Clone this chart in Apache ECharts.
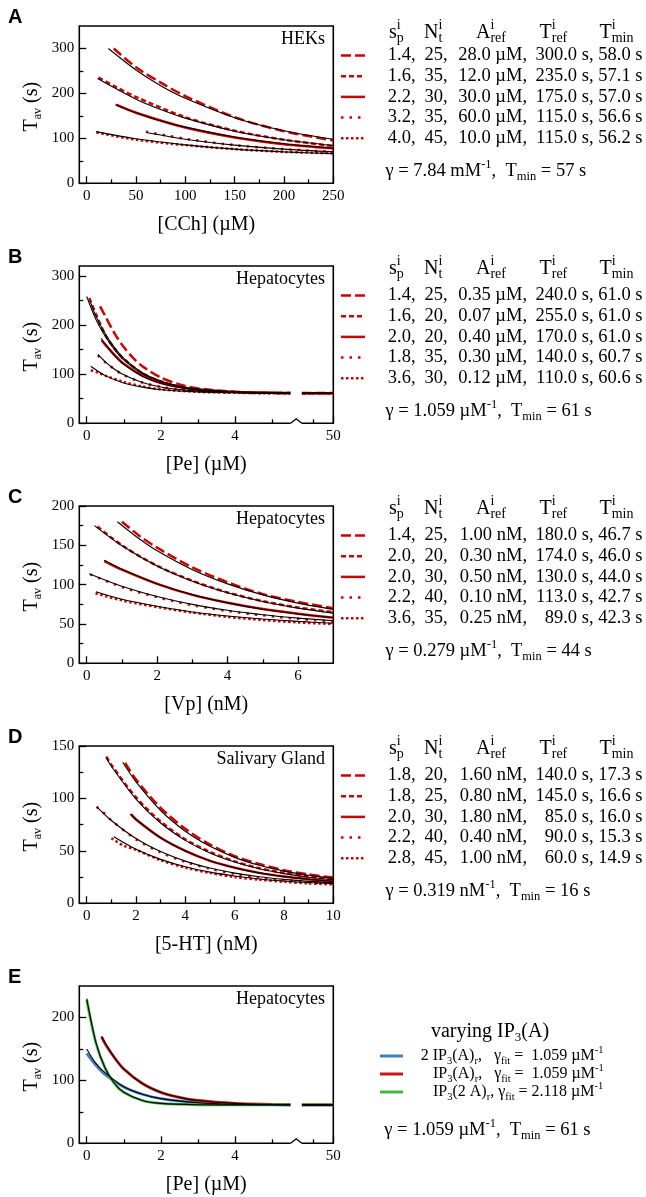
<!DOCTYPE html>
<html><head><meta charset="utf-8">
<script src="https://cdn.jsdelivr.net/npm/echarts@6.0.0/dist/echarts.min.js"></script>
<style>html,body{margin:0;padding:0;background:#fff;}#chart{width:646px;height:1197px;}</style>
</head><body><div id="chart"></div>
<script>
// ===================== DATA =====================
// Panel A : HEKs, [CCh] (uM)
const aXTicks=[0,50,100,150,200,250], aXMinor=[25,75,125,175,225];
const aYTicks=[0,100,200,300], aYMinor=[50,150,250];
const aSim=[
 [[27.5,300],[50,258],[75,224],[100,194],[150,147],[200,116],[250,95]],
 [[12,235],[30,214],[50,192],[100,147],[150,117],[200,97],[250,83]],
 [[30,175],[50,157],[100,124],[150,102],[200,87],[250,78]],
 [[60,115],[100,99],[150,85],[200,76],[250,70]],
 [[10,113],[50,97],[100,85],[150,76],[200,70],[250,67]]
];
const aFit=[
 [[22,300],[50,252],[75,217],[100,189],[150,146],[200,117],[250,98]],
 [[11,233],[50,187],[75,164],[100,145],[150,116],[200,97],[250,84]],
 [[29,175],[50,157],[75,139],[100,125],[150,103],[200,88],[250,78]],
 [[60.6,113],[100,98],[150,85],[200,76],[250,70]],
 [[9.4,115],[50,99],[100,85.5],[150,76],[200,70],[250,66]]
];
const aRows=[
 ['1.4,','25,','28.0 \u00b5M,','300.0 s,','58.0 s'],
 ['1.6,','35,','12.0 \u00b5M,','235.0 s,','57.1 s'],
 ['2.2,','30,','30.0 \u00b5M,','175.0 s,','57.0 s'],
 ['3.2,','35,','60.0 \u00b5M,','115.0 s,','56.6 s'],
 ['4.0,','45,','10.0 \u00b5M,','115.0 s,','56.2 s']
];
const aGamma='\u03b3 = 7.84 mM^{-1},  T_{min} = 57 s';

// Panel B : Hepatocytes, [Pe] (uM), broken x axis
const bXTicks=[0,2,4,50], bXMinor=[1,3,5,49.45];
const bYTicks=[0,100,200,300], bYMinor=[50,150,250];
const bBreak={start:5.5,end:49.15};
const bSim=[
 [[0.36,238],[0.5,218],[0.75,183],[1,155],[1.25,133],[1.5,116],[2,93],[2.5,79],[3,71],[4,64],[5,62],[5.5,61.5],[49.2,61.5],[50,61.5]],
 [[0.07,255],[0.25,222],[0.5,180],[0.75,152],[1,131],[1.5,102],[2,85],[2.5,75],[3,69],[4,64],[5,62],[5.5,61.4],[49.2,61.2],[50,61.2]],
 [[0.4,169],[0.5,160],[0.75,139],[1,121],[1.5,97],[2,82],[2.5,74],[3,68.5],[4,63.5],[5,62],[5.5,61.5],[49.2,61.2],[50,61.2]],
 [[0.3,138],[0.5,124],[0.75,110],[1,98],[1.5,83],[2,74],[2.5,69],[3,65.5],[4,62.5],[5,61.2],[5.5,61],[49.2,60.9],[50,60.9]],
 [[0.11,108],[0.3,103],[0.5,97],[1,84],[1.5,75],[2,69],[3,64],[4,62],[5,61],[5.5,60.8],[49.2,60.6],[50,60.6]]
];
const bFit=[
 [[0.09,249],[0.25,218],[0.5,182],[0.75,154],[1,132],[1.5,103],[2,86],[2.5,75.5],[3,69.5],[4,64],[5,62],[5.5,61.5],[49.2,61],[50,61]],
 [[0,258],[0.25,211],[0.5,177],[0.75,150],[1,129],[1.5,101],[2,85],[2.5,75],[3,69],[4,64],[5,62],[5.5,61.6],[49.2,61],[50,61]],
 [[0.39,173],[0.5,161],[0.75,137.5],[1,120],[1.5,95.6],[2,81.4],[2.5,73],[3,68],[4,63.5],[5,62],[5.5,61.5],[49.2,61],[50,61]],
 [[0.3,140],[0.5,125],[0.75,110],[1,98.6],[1.5,83],[2,74],[2.5,68.7],[3,65.5],[4,62.6],[5,61.5],[5.5,61.3],[49.2,61],[50,61]],
 [[0.11,116],[0.5,97],[1,82],[1.5,73.6],[2,68.4],[3,63.6],[4,62],[5,61.3],[5.5,61.2],[49.2,61],[50,61]]
];
const bRows=[
 ['1.4,','25,','0.35 \u00b5M,','240.0 s,','61.0 s'],
 ['1.6,','20,','0.07 \u00b5M,','255.0 s,','61.0 s'],
 ['2.0,','20,','0.40 \u00b5M,','170.0 s,','61.0 s'],
 ['1.8,','35,','0.30 \u00b5M,','140.0 s,','60.7 s'],
 ['3.6,','30,','0.12 \u00b5M,','110.0 s,','60.6 s']
];
const bGamma='\u03b3 = 1.059 \u00b5M^{-1},  T_{min} = 61 s';

// Panel C : Hepatocytes, [Vp] (nM)
const cXTicks=[0,2,4,6], cXMinor=[1,3,5];
const cYTicks=[0,50,100,150,200], cYMinor=[25,75,125,175];
const cSim=[
 [[1,180],[1.5,162],[2,147],[3,122],[4,103],[5,88],[6,78],[7,70]],
 [[0.3,174],[1,150],[2,124],[3,105],[4,90],[5,79],[6,71],[7,65]],
 [[0.5,130],[1,119],[2,101],[3,87],[4,77],[5,69],[6,63],[7,58]],
 [[0.1,113],[1,97],[2,84],[3,74],[4,66.5],[5,61],[6,56.5],[7,53]],
 [[0.25,89],[1,80],[2,71.5],[3,64.5],[4,59],[5,55],[6,52],[7,50]]
];
const cFit=[
 [[0.87,180],[1.5,158],[2,143],[3,119],[4,101],[5,87],[6,76.5],[7,68.6]],
 [[0.22,175],[1,149.4],[2,123.7],[3,104.3],[4,89.6],[5,78.5],[6,70.1],[7,63.8]],
 [[0.5,131],[1,119.7],[2,101.2],[3,87.3],[4,76.8],[5,68.8],[6,62.7],[7,58.2]],
 [[0.07,114],[1,98],[2,84.9],[3,74.9],[4,67.4],[5,61.7],[6,57.4],[7,54.1]],
 [[0.26,91],[1,81.5],[2,72.6],[3,65.3],[4,60.2],[5,56.3],[6,53.3],[7,51]]
];
const cRows=[
 ['1.4,','25,','1.00 nM,','180.0 s,','46.7 s'],
 ['2.0,','20,','0.30 nM,','174.0 s,','46.0 s'],
 ['2.0,','30,','0.50 nM,','130.0 s,','44.0 s'],
 ['2.2,','40,','0.10 nM,','113.0 s,','42.7 s'],
 ['3.6,','35,','0.25 nM,','89.0 s,','42.3 s']
];
const cGamma='\u03b3 = 0.279 \u00b5M^{-1},  T_{min} = 44 s';

// Panel D : Salivary Gland, [5-HT] (nM)
const dXTicks=[0,2,4,6,8,10], dXMinor=[1,3,5,7,9];
const dYTicks=[0,50,100,150], dYMinor=[25,75,125];
const dSim=[
 [[1.56,134],[2,118],[3,91],[4,71],[5,56],[6,45],[7,37.5],[8,31.5],[9,27.5],[10,24.5]],
 [[0.8,140],[1,132],[2,101],[3,78],[4,61],[5,49],[6,40],[7,33.5],[8,29],[9,25.5],[10,23]],
 [[1.8,85],[2,80],[3,62.5],[4,50],[5,40.5],[6,34],[7,29],[8,25.5],[9,23],[10,21]],
 [[0.4,92],[0.8,84],[1,79],[2,61],[3,48.5],[4,39.5],[5,33],[6,28],[7,24.5],[8,22],[9,20],[10,19]],
 [[1,62],[1.5,55],[2,51],[3,41],[4,34],[5,29],[6,25],[7,22.5],[8,20.5],[9,19],[10,18]]
];
const dFit=[
 [[1.46,134.5],[2,115.8],[3,88.5],[4,68.7],[5,54.3],[6,43.8],[7,36.2],[8,30.7],[9,26.7],[10,23.8]],
 [[0.78,139],[1,130.7],[2,99.4],[3,76.6],[4,60],[5,48],[6,39.3],[7,32.9],[8,28.3],[9,24.9],[10,22.5]],
 [[1.76,85],[2,79.9],[3,62.5],[4,49.8],[5,40.5],[6,33.8],[7,29],[8,25.4],[9,22.9],[10,21]],
 [[0.41,92],[1,79],[2,61.8],[3,49.3],[4,40.2],[5,33.6],[6,28.8],[7,25.3],[8,22.8],[9,20.9],[10,19.6]],
 [[1.1,63.5],[2,51.6],[3,41.9],[4,34.8],[5,29.7],[6,26],[7,23.2],[8,21.3],[9,19.8],[10,18.8]]
];
const dRows=[
 ['1.8,','20,','1.60 nM,','140.0 s,','17.3 s'],
 ['1.8,','25,','0.80 nM,','145.0 s,','16.6 s'],
 ['2.0,','30,','1.80 nM,','85.0 s,','16.0 s'],
 ['2.2,','40,','0.40 nM,','90.0 s,','15.3 s'],
 ['2.8,','45,','1.00 nM,','60.0 s,','14.9 s']
];
const dGamma='\u03b3 = 0.319 nM^{-1},  T_{min} = 16 s';

// Panel E : Hepatocytes, varying IP3(A), broken x axis
const eXTicks=[0,2,4,50], eXMinor=[1,3,5,49.45];
const eYTicks=[0,100,200], eYMinor=[50,150];
const eBreak={start:5.5,end:49.15};
const eNames=['2 IP_{3}(A)_{r},   \u03b3_{fit} =  1.059 \u00b5M^{-1}','IP_{3}(A)_{r},   \u03b3_{fit} =  1.059 \u00b5M^{-1}','IP_{3}(2 A)_{r}, \u03b3_{fit} = 2.118 \u00b5M^{-1}'];
const eSim=[ // blue, red, green
 [[0,143],[0.25,124],[0.5,109],[1,89.5],[1.5,78],[2,71],[3,64.5],[4,62],[5,61.4],[5.5,61.2],[49.2,61],[50,61]],
 [[0.4,169],[0.5,158],[0.75,136],[1,118],[1.5,95],[2,81],[2.5,73],[3,68],[4,63.4],[5,61.8],[5.5,61.3],[49.2,61],[50,61]],
 [[0,228],[0.25,159],[0.5,119],[0.75,95],[1,81],[1.5,68],[2,63.4],[3,61.3],[4,61],[5.5,61],[49.2,61],[50,61]]
];
const eFit=[
 [[0,150],[0.25,127],[0.5,112],[1,90],[1.5,78],[2,71],[3,64.5],[4,62],[5,61.3],[5.5,61.2],[49.2,61],[50,61]],
 [[0.4,170],[0.5,159],[0.75,136],[1,118],[1.5,95],[2,81],[2.5,73],[3,68],[4,63.4],[5,61.8],[5.5,61.3],[49.2,61],[50,61]],
 [[0,230],[0.25,160],[0.5,119],[0.75,95],[1,81],[1.5,68],[2,63.4],[3,61.3],[4,61],[5.5,61],[49.2,61],[50,61]]
];
const eGamma='\u03b3 = 1.059 \u00b5M^{-1},  T_{min} = 61 s';

// ===================== STYLE / LAYOUT =====================
const SERIF='"Liberation Serif","Times New Roman",serif';
const SANS='"Liberation Sans",Arial,sans-serif';
const RED='#d40000';
const E_COLORS=['#3f7fc0','#cc1515','#44b544'];
const DASH=[[10,4],[5,3],'solid',[2.5,6],[2.5,2.5]];
const GL=79.3, GW=254, GH=157.3;
const TOPS=[26,266,506,746,986];

const panels=[
 {letter:'A',cell:'HEKs',xName:'[CCh] (\u00b5M)',xr:[-7.5,250],yr:[0,350],xt:aXTicks,xm:aXMinor,yt:aYTicks,ym:aYMinor,sim:aSim,fit:aFit,rows:aRows,gamma:aGamma,hdr:6.5},
 {letter:'B',cell:'Hepatocytes',xName:'[Pe] (\u00b5M)',xr:[-0.2,50],yr:[0,320],xt:bXTicks,xm:bXMinor,yt:bYTicks,ym:bYMinor,sim:bSim,fit:bFit,rows:bRows,gamma:bGamma,hdr:2.5,brk:bBreak},
 {letter:'C',cell:'Hepatocytes',xName:'[Vp] (nM)',xr:[-0.21,7],yr:[0,200],xt:cXTicks,xm:cXMinor,yt:cYTicks,ym:cYMinor,sim:cSim,fit:cFit,rows:cRows,gamma:cGamma,hdr:2.5},
 {letter:'D',cell:'Salivary Gland',xName:'[5-HT] (nM)',xr:[-0.3,10],yr:[0,150],xt:dXTicks,xm:dXMinor,yt:dYTicks,ym:dYMinor,sim:dSim,fit:dFit,rows:dRows,gamma:dGamma,hdr:2.5},
 {letter:'E',cell:'Hepatocytes',xName:'[Pe] (\u00b5M)',xr:[-0.2,50],yr:[0,250],xt:eXTicks,xm:eXMinor,yt:eYTicks,ym:eYMinor,sim:eSim,fit:eFit,gamma:eGamma,brk:eBreak,colored:true}
];

// ---------- text helpers (sub/superscripts) ----------
const cv=document.createElement('canvas').getContext('2d');
function tw(s,size){cv.font='normal '+size+'px '+SERIF;return cv.measureText(s).width;}
function parse(str){
  const out=[];let i=0,buf='';
  while(i<str.length){
    const c=str[i];
    if((c==='_'||c==='^')&&str[i+1]==='{'){
      if(buf){out.push({t:buf,k:'n'});buf='';}
      const j=str.indexOf('}',i);
      out.push({t:str.slice(i+2,j),k:c==='_'?'sub':'sup'});i=j+1;
    }else{buf+=c;i++;}
  }
  if(buf)out.push({t:buf,k:'n'});
  return out;
}
function T(t,x,y,size,align,z){
  return {type:'text',x:x,y:y,z:z||95,silent:true,style:{text:t,fontSize:size,fontFamily:SERIF,fill:'#000',
    align:align||'left',textAlign:align||'left',verticalAlign:'middle',textVerticalAlign:'middle'}};
}
function mtext(str,x,y,size,align,ssz){
  const ss=ssz||size*0.68;const items=parse(str);const els=[];let cx=0,lastX=0,prev=false;
  for(const it of items){
    if(it.k==='n'){els.push({t:it.t,x:cx,dy:0,s:size});cx+=tw(it.t,size);prev=false;}
    else{
      const w=tw(it.t,ss);const sx=prev?lastX:cx;
      els.push({t:it.t,x:sx,dy:it.k==='sub'?size*0.3:-size*0.36,s:ss});
      if(prev){cx=Math.max(cx,sx+w);}else{lastX=cx;cx+=w;}
      prev=true;
    }
  }
  const off=align==='right'?-cx:(align==='center'?-cx/2:0);
  return els.map(e=>T(e.t,x+off+e.x,y+e.dy,e.s));
}

// ---------- build option ----------
const grids=[],xAxes=[],yAxes=[],series=[],graphics=[];
const tickStyle={color:'#000',width:1.3};
const labelStyle={fontFamily:SERIF,fontSize:15,color:'#000'};
panels.forEach((p,i)=>{
  const top=TOPS[i];
  grids.push({left:GL,top:top,width:GW,height:GH,show:true,borderColor:'#000',borderWidth:1.6,backgroundColor:'transparent'});
  const brk=p.brk?{breaks:[{start:p.brk.start,end:p.brk.end,gap:0.3}],breakArea:{show:false}}:{};
  const noLine={show:false,onZero:false};
  xAxes[i]=Object.assign({gridIndex:i,type:'value',min:p.xr[0],max:p.xr[1],position:'bottom',
    axisLine:noLine,splitLine:{show:false},
    axisTick:{show:true,inside:true,length:7,lineStyle:tickStyle,customValues:p.xt},
    axisLabel:{show:true,margin:5,customValues:p.xt,...labelStyle},
    name:p.xName,nameLocation:'middle',nameGap:31,nameTextStyle:{fontFamily:SERIF,fontSize:20,color:'#000'}},brk);
  xAxes[5+i]=Object.assign({gridIndex:i,type:'value',min:p.xr[0],max:p.xr[1],position:'bottom',
    axisLine:noLine,splitLine:{show:false},axisLabel:{show:false},
    axisTick:{show:true,inside:true,length:4,lineStyle:tickStyle,customValues:p.xm}},brk);
  yAxes[i]={gridIndex:i,type:'value',min:p.yr[0],max:p.yr[1],position:'left',
    axisLine:noLine,splitLine:{show:false},
    axisTick:{show:true,inside:true,length:7,lineStyle:tickStyle,customValues:p.yt},
    axisLabel:{show:true,margin:5,customValues:p.yt,...labelStyle}};
  yAxes[5+i]={gridIndex:i,type:'value',min:p.yr[0],max:p.yr[1],position:'left',
    axisLine:noLine,splitLine:{show:false},axisLabel:{show:false},
    axisTick:{show:true,inside:true,length:4,lineStyle:tickStyle,customValues:p.ym}};
  // simulated (coloured) curves
  p.sim.forEach((d,k)=>{
    series.push({type:'line',xAxisIndex:i,yAxisIndex:i,data:d,showSymbol:false,symbol:'none',smooth:0.3,
      lineStyle:p.colored?{color:E_COLORS[k],width:2.8}:{color:RED,width:2.5,type:DASH[k],cap:'butt'},z:2});
  });
  // fits (black)
  p.fit.forEach(d=>{
    series.push({type:'line',xAxisIndex:i,yAxisIndex:i,data:d,showSymbol:false,symbol:'none',smooth:0.3,
      lineStyle:{color:'#000',width:1.1},z:3});
  });
  // panel letter + cell label
  graphics.push({type:'text',x:8,y:top-9,z:95,silent:true,style:{text:p.letter,fontSize:20,fontWeight:'bold',fontFamily:SANS,fill:'#000',align:'left',textAlign:'left',verticalAlign:'middle',textVerticalAlign:'middle'}});
  graphics.push(T(p.cell,325,top+13,18,'right'));
  // y axis name (rotated)
  graphics.push({type:'group',x:31.7,y:top+GH/2+2,rotation:Math.PI/2,children:mtext('T_{av} (s)',0,0,20,'center',12)});
  // right side text
  if(p.rows){
    const hdrX=[389,424,476,539.5,599.5];
    const hdrS=['s_{p}^{i}','N_{t}^{i}','A_{ref}^{i}','T_{ref}^{i}','T_{min}^{i}'];
    hdrS.forEach((h,k)=>graphics.push(...mtext(h,hdrX[k],top+p.hdr,20,'left',14)));
    const colR=[415.5,447.5,527,593.5,642.5];
    p.rows.forEach((r,k)=>{
      const y=top+29.5+20.7*k;
      r.forEach((c,j)=>graphics.push(T(c,colR[j],y,18.5,'right')));
      const ds=DASH[k];
      graphics.push({type:'line',z:95,silent:true,shape:{x1:341,y1:y,x2:365,y2:y},style:{stroke:RED,lineWidth:2.5,lineDash:ds==='solid'?null:ds,lineCap:'butt'}});
    });
    graphics.push(...mtext(p.gamma,385.5,top+145,18.5,'left',12.5));
  } else {
    graphics.push(...mtext('varying IP_{3}(A)',490,top+45.7,20,'center',13));
    const lx=[420.7,433,433];
    eNames.forEach((n,k)=>{
      const y=top+70+18*k;
      graphics.push({type:'line',z:95,silent:true,shape:{x1:380,y1:y,x2:403,y2:y},style:{stroke:E_COLORS[k],lineWidth:3}});
      graphics.push(...mtext(n,lx[k],y,16,'left',10.5));
    });
    graphics.push(...mtext(p.gamma,384.3,top+144,18.5,'left',12.5));
  }
});

const chart=echarts.init(document.getElementById('chart'),null,{renderer:'canvas'});
chart.setOption({animation:false,backgroundColor:'#fff',grid:grids,xAxis:xAxes,yAxis:yAxes,series:series,graphic:graphics});

// axis-break decoration (gap in curves + caret on the bottom axis)
panels.forEach((p,i)=>{
  if(!p.brk)return;
  const x1=chart.convertToPixel({xAxisIndex:i},p.brk.start);
  const x2=chart.convertToPixel({xAxisIndex:i},p.brk.end);
  const top=TOPS[i],bot=top+GH;
  graphics.push({type:'rect',z:90,silent:true,shape:{x:x1,y:top+1,width:x2-x1,height:GH+1},style:{fill:'#fff'}});
  graphics.push({type:'polyline',z:91,silent:true,shape:{points:[[x1,bot],[(x1+x2)/2,bot-4.5],[x2,bot]]},style:{stroke:'#000',lineWidth:1.4,fill:null}});
});
chart.setOption({graphic:graphics});
</script></body></html>
